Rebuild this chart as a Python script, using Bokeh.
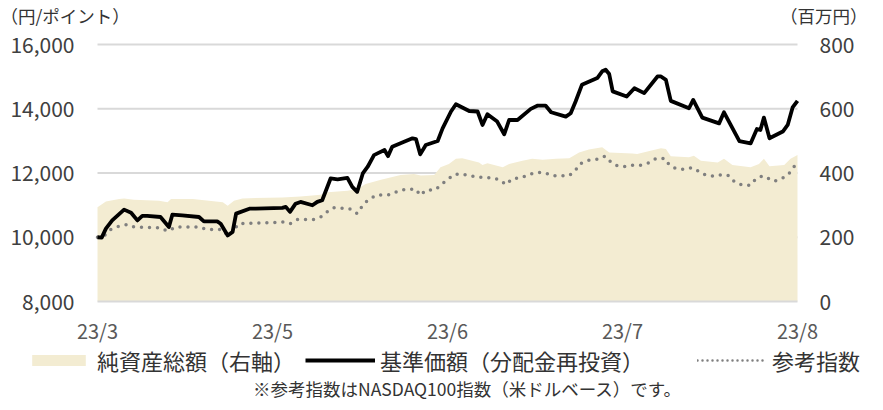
from bokeh.plotting import figure
from bokeh.models import (Range1d, LinearAxis, FixedTicker, NumeralTickFormatter,
                          Legend, LegendItem, Label)
from bokeh.embed import file_html
from bokeh.resources import INLINE

# ---------------- data ----------------
tick_pos = [0, 25, 50, 75, 100]
tick_labels = ["23/3", "23/5", "23/6", "23/7", "23/8"]

# 基準価額（分配金再投資） (円) — left axis
nav_t = [0, 0.6, 1.2, 2.1, 3.8, 4.8, 5.7, 6.4, 7.1, 9.0,
         10.2, 10.7, 12.1, 14.5, 15.2, 17.1, 17.6, 18.6, 19.3, 19.8,
         21.7, 22.6, 26.4, 26.9, 27.5, 28.3, 29.0, 30.7, 31.4, 32.1,
         33.3, 34.3, 35.7, 36.4, 37.1, 37.9, 38.6, 39.5, 40.0, 41.0,
         41.5, 42.1, 43.8, 45.0, 45.5, 46.1, 46.9, 48.6, 49.3, 50.5,
         51.2, 53.1, 54.3, 55.0, 55.7, 57.1, 58.1, 58.8, 60.0, 61.9,
         62.9, 64.0, 64.8, 66.9, 67.6, 68.3, 69.2, 71.4, 72.1, 72.6,
         73.1, 73.6, 75.6, 76.7, 78.1, 80.0, 80.5, 81.2, 81.9, 84.5,
         85.1, 86.4, 88.8, 89.5, 91.7, 93.3, 94.2, 94.7, 95.2, 96.0,
         97.9, 98.6, 99.3, 100]
nav_v = [10000, 9990, 10270, 10525, 10860, 10765, 10525, 10665, 10665, 10630,
         10320, 10705, 10680, 10630, 10495, 10495, 10420, 10055, 10165, 10735,
         10890, 10890, 10915, 10945, 10790, 11045, 11100, 10995, 11100, 11150,
         11830, 11805, 11850, 11570, 11415, 11985, 12195, 12555, 12610, 12715,
         12525, 12820, 12975, 13080, 13055, 12580, 12870, 12995, 13390, 13915,
         14140, 13930, 13915, 13495, 13830, 13600, 13205, 13650, 13650, 13995,
         14100, 14100, 13890, 13755, 13860, 14225, 14745, 14955, 15165, 15215,
         15080, 14540, 14380, 14640, 14485, 15005, 15005, 14900, 14245, 14015,
         14275, 13725, 13545, 13890, 12995, 12920, 13370, 13340, 13725, 13080,
         13290, 13495, 14040, 14245]

# 参考指数 (ポイント) — left axis
idx_t = [0, 1.0, 1.9, 3.1, 4.3, 5.2, 8.8, 10.0, 11.2, 14.5,
         15.5, 17.9, 18.6, 19.5, 20.2, 25.0, 26.4, 27.5, 28.6, 31.0,
         31.9, 32.9, 33.8, 36.0, 37.1, 37.9, 38.6, 39.8, 41.9, 42.9,
         44.0, 45.5, 46.1, 46.9, 48.3, 49.0, 50.0, 51.0, 52.1, 54.0,
         55.5, 56.4, 57.6, 58.3, 59.3, 60.5, 61.7, 62.6, 63.8, 65.0,
         67.4, 68.3, 69.0, 70.2, 71.4, 72.5, 73.3, 74.0, 75.2, 76.4,
         77.6, 78.8, 79.8, 81.0, 81.7, 82.6, 83.8, 85.0, 86.0, 86.9,
         88.1, 89.3, 90.2, 91.0, 92.1, 93.3, 94.0, 95.0, 95.7, 96.6,
         97.6, 98.7, 99.5, 100]
idx_v = [10000, 10055, 10245, 10350, 10400, 10320, 10295, 10195, 10320, 10320,
         10245, 10245, 10040, 10235, 10420, 10455, 10475, 10420, 10555, 10555,
         10630, 10805, 10920, 10890, 10735, 10995, 11150, 11305, 11330, 11430,
         11495, 11495, 11305, 11465, 11485, 11620, 11795, 11955, 11965, 11880,
         11850, 11850, 11775, 11640, 11830, 11850, 11955, 12015, 12015, 11915,
         11915, 12090, 12295, 12400, 12430, 12525, 12350, 12245, 12195, 12245,
         12245, 12320, 12455, 12455, 12245, 12140, 12110, 12165, 12040, 11930,
         11900, 11955, 11915, 11725, 11620, 11620, 11805, 11915, 11850, 11745,
         11805, 11955, 12195, 12265]

# 純資産総額 (百万円) — right axis
aum_t = [0, 1.2, 3.1, 3.8, 5.2, 8.8, 10.0, 10.5, 13.6, 17.9,
         18.6, 19.5, 20.7, 26.4, 29.0, 31.9, 32.9, 35.7, 37.1, 38.3,
         40.5, 43.3, 45.2, 46.2, 48.1, 49.0, 50.2, 51.2, 52.1, 54.5,
         55.0, 55.7, 57.9, 58.8, 60.7, 62.1, 63.6, 65.5, 67.4, 68.8,
         70.2, 72.1, 73.1, 76.4, 77.1, 79.0, 80.5, 81.2, 81.9, 84.5,
         85.2, 86.2, 88.6, 89.5, 90.7, 93.3, 94.5, 95.2, 96.0, 98.1,
         99.0, 100]
aum_v = [293, 311, 319, 321, 317, 314, 309, 319, 319, 309,
         298, 314, 321, 324, 327, 332, 340, 345, 350, 366,
         379, 394, 397, 392, 394, 418, 428, 444, 446, 433,
         425, 430, 418, 428, 438, 444, 441, 444, 446, 464,
         473, 480, 464, 461, 459, 469, 477, 475, 452, 449,
         454, 438, 433, 444, 425, 418, 428, 444, 421, 425,
         444, 456]

left_ticks = [8000, 10000, 12000, 14000, 16000]
right_ticks = [0, 200, 400, 600, 800]

series_names = ["純資産総額（右軸）", "基準価額（分配金再投資）", "参考指数"]
unit_left = "（円/ポイント）"
unit_right = "（百万円）"
footnote = "※参考指数はNASDAQ100指数（米ドルベース）です。"

FONT = "Noto Sans CJK JP"
AREA_COLOR = "#F3ECD2"
IDX_COLOR = "#7f7f7f"
GRID_COLOR = "#d9d9d9"
NAN = float("nan")

# ---------------- canvas geometry (pixels) ----------------
W, H = 867, 400
PX0, PX1 = 97, 797      # plot area left / right
PY0, PY1 = 44, 301      # plot area top / bottom

x0, x1 = tick_pos[0], tick_pos[-1]
xs = (PX1 - PX0) / (x1 - x0)
ylo, yhi = left_ticks[0], left_ticks[-1]
ys = (PY1 - PY0) / (yhi - ylo)
rlo, rhi = right_ticks[0], right_ticks[-1]
rs = (PY1 - PY0) / (rhi - rlo)

p = figure(frame_width=W, frame_height=H,
           min_border=0, min_border_left=0, min_border_right=0,
           min_border_top=0, min_border_bottom=0,
           x_range=Range1d(x0 - PX0 / xs, x1 + (W - PX1) / xs),
           y_range=Range1d(ylo - (H - PY1) / ys, yhi + PY0 / ys),
           output_backend="svg", toolbar_location=None)
p.outline_line_color = None
p.grid.visible = False
p.extra_y_ranges = {"aum": Range1d(rlo - (H - PY1) / rs, rhi + PY0 / rs)}

# horizontal grid lines over the data span
grid_vals = left_ticks[1:]
p.segment(x0=[x0] * len(grid_vals), x1=[x1] * len(grid_vals),
          y0=grid_vals, y1=grid_vals, line_color=GRID_COLOR, line_width=2)

r_aum = p.varea(x=aum_t, y1=[0] * len(aum_t), y2=aum_v, y_range_name="aum",
                fill_color=AREA_COLOR)
r_idx = p.line(idx_t, idx_v, line_color=IDX_COLOR, line_width=3.5,
               line_dash="0 8", line_cap="round")
r_nav = p.line(nav_t, nav_v, line_color="#000000", line_width=3.8,
               line_join="round")

# legend-only swatches (a single undefined point, never drawn in the plot)
d_idx = p.line(x=[NAN], y=[NAN], line_color=IDX_COLOR, line_width=2.5,
               line_dash="0 5", line_cap="round")
d_nav = p.line(x=[NAN], y=[NAN], line_color="#000000", line_width=4)

# ---------------- axes (fixed to the data area) ----------------
xa = p.xaxis[0]
xa.fixed_location = ylo
xa.bounds = (x0, x1)
xa.ticker = FixedTicker(ticks=tick_pos)
xa.major_label_overrides = {t: l for t, l in zip(tick_pos, tick_labels)}
xa.axis_line_color = GRID_COLOR
xa.axis_line_width = 2
xa.major_tick_line_color = None
xa.major_tick_out = 0
xa.major_tick_in = 0
xa.minor_tick_line_color = None
xa.major_label_text_font = FONT
xa.major_label_text_font_size = "20px"
xa.major_label_text_color = "#595959"
xa.major_label_standoff = 14

ya = p.yaxis[0]
ya.fixed_location = x0
ya.bounds = (ylo, yhi)
ya.ticker = FixedTicker(ticks=left_ticks)
ya.formatter = NumeralTickFormatter(format="0,0")
ya.axis_line_color = None
ya.major_tick_line_color = None
ya.major_tick_out = 0
ya.major_tick_in = 0
ya.minor_tick_line_color = None
ya.major_label_text_font = FONT
ya.major_label_text_font_size = "21px"
ya.major_label_text_color = "#404040"
ya.major_label_standoff = 23

ra = LinearAxis(y_range_name="aum", ticker=FixedTicker(ticks=right_ticks),
                fixed_location=x1, bounds=(rlo, rhi))
ra.axis_line_color = None
ra.major_tick_line_color = None
ra.major_tick_out = 0
ra.major_tick_in = 0
ra.minor_tick_line_color = None
ra.major_label_text_font = FONT
ra.major_label_text_font_size = "21px"
ra.major_label_text_color = "#404040"
ra.major_label_standoff = 22
p.add_layout(ra, "right")

# ---------------- unit labels & footnote ----------------
p.add_layout(Label(x=0, y=H - 15, x_units="screen", y_units="screen",
                   text=unit_left, text_font=FONT, text_font_size="17.5px",
                   text_color="#333333", text_baseline="middle", text_align="left"))
p.add_layout(Label(x=W, y=H - 15, x_units="screen", y_units="screen",
                   text=unit_right, text_font=FONT, text_font_size="17.5px",
                   text_color="#333333", text_baseline="middle", text_align="right"))
p.add_layout(Label(x=467, y=H - 388, x_units="screen", y_units="screen",
                   text=footnote, text_font=FONT, text_font_size="17.5px",
                   text_color="#333333", text_baseline="middle", text_align="center"))

# ---------------- legends ----------------
def mk_legend(label, rend, vx, gw):
    lg = Legend(items=[LegendItem(label=label, renderers=[rend])],
                location=(vx, H - 376), orientation="horizontal",
                background_fill_alpha=0, border_line_color=None,
                padding=0, margin=0, spacing=0,
                label_text_font=FONT, label_text_font_size="22px",
                label_text_color="#333333", label_standoff=5,
                label_height=26, glyph_width=gw, glyph_height=14)
    p.add_layout(lg, "center")

mk_legend(series_names[0], r_aum, 25, 67)
mk_legend(series_names[1], d_nav, 305, 70)
mk_legend(series_names[2], d_idx, 697, 70)

open("out.html", "w").write(file_html(p, INLINE))
